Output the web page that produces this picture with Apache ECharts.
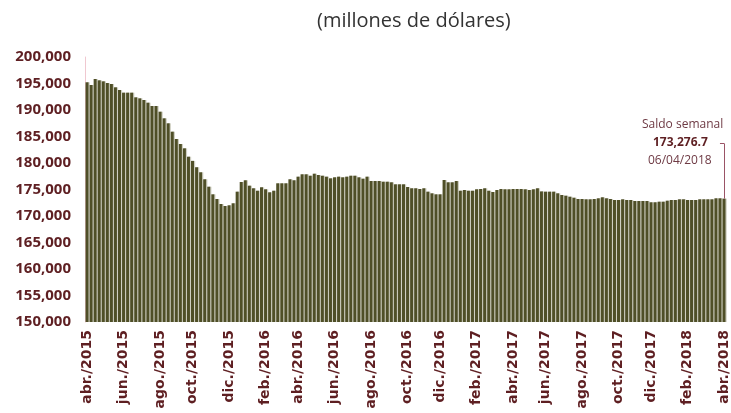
<!DOCTYPE html>
<html lang="es">
<head>
    <meta charset="UTF-8">
    <title>Saldo semanal de reservas</title>
    <script src="https://cdn.jsdelivr.net/npm/echarts@6/dist/echarts.min.js"></script>
    <style>
        html, body { margin: 0; padding: 0; background: #fff; }
        #main { width: 731px; height: 413px; }
    </style>
</head>
<body>
    <div id="main"></div>
    <script>
        // semana inicial (viernes) y saldos semanales, millones de dólares
        var startDate = '2015-04-03';
        var saldos = [
            195230, 194720, 195850, 195600, 195410, 195090, 194910, 194280, 193770, 193270,
            193270, 193270, 192390, 192200, 191890, 191380, 190760, 190760, 189680, 188430,
            187490, 185910, 184530, 183590, 182770, 181190, 180400, 179200,
            178250, 176930, 175530, 174090, 173210, 172260, 171890, 172020, 172400, 174590,
            176420, 176740, 175720, 175230, 174770, 175420, 175040, 174470, 174770, 176170,
            176170, 176170, 176930, 176740, 177420, 177870, 177870, 177600, 177980, 177740,
            177600, 177420, 177110, 177300, 177420, 177300, 177420, 177600, 177600, 177300,
            177040, 177420, 176600, 176600, 176600, 176470, 176470, 176360, 175980, 175980,
            175980, 175470, 175230, 175230, 175090, 175230, 174590, 174280, 174090, 174090,
            176790, 176360, 176360, 176600,
            174770, 174910, 174770, 174770, 175040, 175090, 175230, 174770, 174530, 174910,
            175090, 175040, 175040, 175090, 175090, 175090, 175040, 174910, 175040, 175230,
            174640, 174590, 174590, 174590, 174280, 173960, 173830, 173640, 173450, 173210,
            173210, 173150, 173150, 173210, 173340, 173530, 173340, 173210, 173020, 173020,
            173150, 173020, 173020, 172830, 172830, 172830, 172830, 172590, 172590, 172700,
            172700, 172890, 173020, 173020, 173150, 173150, 173020, 173020, 173020, 173150,
            173150, 173150, 173150, 173340, 173340,
            173276.7
        ];
        var meses = ['ene.', 'feb.', 'mar.', 'abr.', 'may.', 'jun.', 'jul.', 'ago.', 'sep.', 'oct.', 'nov.', 'dic.'];
        var mesesEtiqueta = [1, 3, 5, 7, 9, 11]; // feb, abr, jun, ago, oct, dic
        var notaTitulo = 'Saldo semanal';
        var notaValor = '173,276.7';
        var notaFecha = '06/04/2018';

        // fechas semanales (viernes)
        var semanas = [];
        var d0 = new Date(startDate + 'T00:00:00Z');
        for (var i = 0; i < saldos.length; i++) {
            var d = new Date(d0.getTime() + i * 7 * 86400000);
            var dd = ('0' + d.getUTCDate()).slice(-2);
            var mm = ('0' + (d.getUTCMonth() + 1)).slice(-2);
            semanas.push(dd + '/' + mm + '/' + d.getUTCFullYear());
        }

        function esEtiqueta(valor) {
            var p = valor.split('/');
            var dia = parseInt(p[0], 10), mes = parseInt(p[1], 10) - 1;
            return dia <= 7 && mesesEtiqueta.indexOf(mes) >= 0;
        }

        var ultimo = semanas.length - 1;
        var granate = '#5e1f22';

        var myChart = echarts.init(document.getElementById('main'));
        var option = {
            animation: false,
            title: {
                text: '(millones de dólares)',
                left: 312,
                top: 6,
                textStyle: { fontFamily: 'Open Sans', fontSize: 20, fontWeight: 'normal', color: '#333333' }
            },
            grid: { left: 85, right: 0, top: 57, bottom: 91 },
            xAxis: {
                type: 'category',
                data: semanas,
                axisLine: { show: false },
                axisTick: { show: false },
                axisLabel: {
                    interval: function (index, value) { return esEtiqueta(value); },
                    formatter: function (value) {
                        var p = value.split('/');
                        return meses[parseInt(p[1], 10) - 1] + '/' + p[2];
                    },
                    rotate: 90,
                    margin: 8,
                    color: granate,
                    fontFamily: 'DejaVu Sans',
                    fontWeight: 'bold',
                    fontSize: 14
                }
            },
            yAxis: {
                type: 'value',
                min: 150000,
                max: 200000,
                interval: 5000,
                splitLine: { show: false },
                axisLine: { show: true, lineStyle: { color: '#f0c8d0', width: 1 } },
                axisTick: { show: false },
                axisLabel: {
                    margin: 14,
                    color: granate,
                    fontFamily: 'Open Sans',
                    fontWeight: 'bold',
                    fontSize: 15,
                    formatter: function (v) { return v.toLocaleString('en-US'); }
                }
            },
            series: [{
                type: 'bar',
                data: saldos,
                barWidth: 3,
                itemStyle: {
                    color: '#4f4f27',
                    shadowColor: '#cfcfc2',
                    shadowOffsetX: 1.2,
                    shadowBlur: 0
                },
                markLine: {
                    silent: true,
                    symbol: 'none',
                    label: { show: false },
                    lineStyle: { color: '#9a5466', width: 1, type: 'solid' },
                    data: [
                        [{ coord: [ultimo, 173276.7] }, { coord: [ultimo, 183700] }],
                        [{ coord: [ultimo - 0.7, 183700] }, { coord: [ultimo, 183700] }]
                    ]
                }
            }],
            graphic: [
                { type: 'text', left: 642, top: 119, style: { text: notaTitulo, fill: '#6e3a44', font: '12px "Open Sans"' } },
                { type: 'text', left: 653, top: 137, style: { text: notaValor, fill: granate, font: 'bold 12px "Open Sans"' } },
                { type: 'text', left: 648, top: 155, style: { text: notaFecha, fill: '#6e3a44', font: '12px "Open Sans"' } }
            ]
        };
        myChart.setOption(option);
    </script>
</body>
</html>
